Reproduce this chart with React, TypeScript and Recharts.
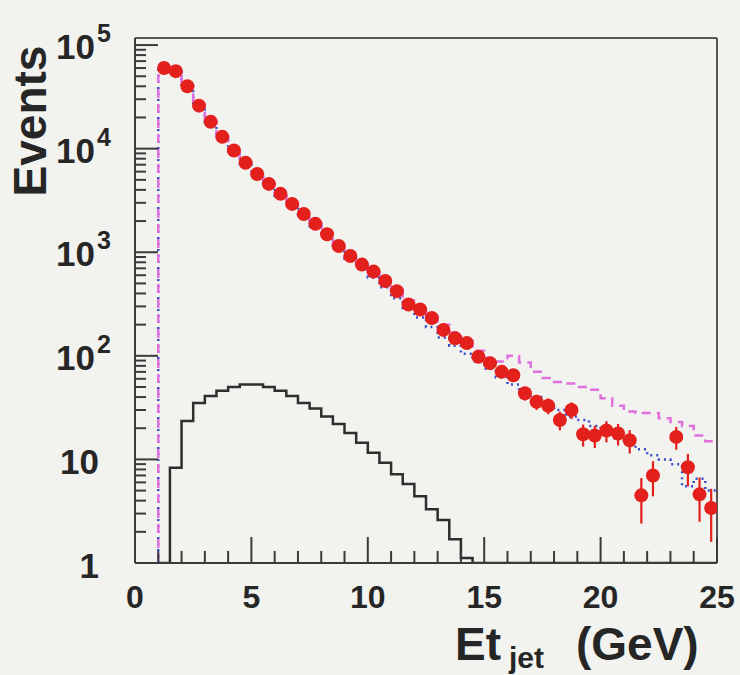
import React from 'react';
import { ComposedChart, Line, Scatter, XAxis, YAxis, ErrorBar, ReferenceLine } from 'recharts';

// Bin centres of Et_jet (GeV), 0.5 GeV bins from 1 to 25
const etCenters = [
  1.25, 1.75, 2.25, 2.75, 3.25, 3.75, 4.25, 4.75, 5.25, 5.75,
  6.25, 6.75, 7.25, 7.75, 8.25, 8.75, 9.25, 9.75, 10.25, 10.75,
  11.25, 11.75, 12.25, 12.75, 13.25, 13.75, 14.25, 14.75, 15.25, 15.75,
  16.25, 16.75, 17.25, 17.75, 18.25, 18.75, 19.25, 19.75, 20.25, 20.75,
  21.25, 21.75, 22.25, 22.75, 23.25, 23.75, 24.25, 24.75,
];

// Data (red points)
const dataEvents: (number | null)[] = [
  60000, 56000, 40000, 26000, 18200, 13000, 9600, 7300, 5700, 4570,
  3660, 2930, 2340, 1880, 1490, 1150, 920, 760, 650, 527,
  421, 313, 280, 232, 178, 148, 133, 98, 85, 70,
  65, 43.5, 36, 33, 24, 30, 17.5, 17, 19, 17.8,
  15.3, 4.5, 7.0, null, 16.5, 8.4, 4.6, 3.4,
];
const dataErrors = [
  245, 237, 200, 161, 135, 114, 98, 85, 75, 68,
  60, 54, 48, 43, 39, 34, 30, 28, 25, 23,
  20.5, 17.7, 16.7, 15.2, 13.3, 12.2, 11.5, 9.9, 9.2, 8.4,
  8.1, 6.6, 6, 5.7, 4.9, 5.5, 4.2, 4.1, 4.4, 4.2,
  3.9, 2.1, 2.6, 0, 4.1, 2.9, 2.1, 1.8,
];

// MC (blue dotted)
const mcBlue = [
  60000, 55000, 39000, 26000, 18000, 12800, 9400, 7100, 5500, 4400,
  3500, 2800, 2240, 1780, 1400, 1100, 870, 700, 570, 460,
  360, 290, 235, 190, 150, 125, 105, 88, 75, 62,
  53, 46, 40, 34, 30, 26, 24, 21, 18, 16,
  14, 12.5, 11, 10, 9, 5.5, 6.5, 5,
];

// MC (magenta dashed)
const mcMagenta = [
  60000, 56000, 40000, 26500, 18500, 13200, 9700, 7400, 5800, 4650,
  3700, 2980, 2380, 1900, 1520, 1180, 950, 780, 640, 520,
  425, 340, 285, 240, 200, 168, 140, 112, 96, 88,
  100, 86, 70, 61, 56, 54, 50, 47, 39, 33,
  29, 28, 28, 25, 23, 21, 17, 15,
];

// Black histogram
const bkgHist = [
  0, 8.3, 23.5, 35, 41, 46, 50, 53, 53, 50,
  46, 41, 35, 31, 26, 22, 18, 14.5, 11.6, 9.3,
  7.2, 5.8, 4.4, 3.3, 2.6, 1.7, 1.12, 0, 0, 0,
  0, 0, 0, 0, 0, 0, 0, 0, 0, 0,
  0, 0, 0, 0, 0, 0, 0, 0,
];

const xTickValues = [0, 1, 2, 3, 4, 5, 6, 7, 8, 9, 10, 11, 12, 13, 14, 15, 16, 17, 18, 19, 20, 21, 22, 23, 24, 25];
const xLabelValues = [0, 5, 10, 15, 20, 25];
const yDecades = [1, 10, 100, 1000, 10000, 100000];
const yDecadeLabels = [
  { base: '1', exp: '' },
  { base: '10', exp: '' },
  { base: '10', exp: '2' },
  { base: '10', exp: '3' },
  { base: '10', exp: '4' },
  { base: '10', exp: '5' },
];

const BIN_HALF = 0.25;
const X_MAX = 25;
const Y_MIN = 1;
const Y_MAX = 117000;

const yTicks: number[] = [];
yDecades.forEach((d) => {
  for (let m = 1; m <= 9; m++) {
    const v = d * m;
    if (v <= Y_MAX) yTicks.push(v);
  }
});

const stepData = (vals: number[]) => {
  const pts: { x: number; y: number }[] = [{ x: etCenters[0] - BIN_HALF, y: Y_MIN }];
  vals.forEach((v, i) => pts.push({ x: etCenters[i] - BIN_HALF, y: Math.max(v, Y_MIN) }));
  pts.push({ x: X_MAX, y: Math.max(vals[vals.length - 1], Y_MIN) });
  return pts;
};

const blueData = stepData(mcBlue);
const magentaData = stepData(mcMagenta);
const bkgData = stepData(bkgHist);
const scatterData = etCenters
  .map((x, i) => ({ x, y: dataEvents[i], err: dataErrors[i] }))
  .filter((d) => d.y !== null);

const FONT = '"Liberation Sans", Arial, Helvetica, sans-serif';
const TEXT = '#262626';
const AXIS = '#3a3a3a';
const RED = '#e3201c';

const XTick = (props: any) => {
  const { x, y, payload } = props;
  const v = payload.value;
  const major = xLabelValues.includes(v);
  return (
    <g>
      <line x1={x} x2={x} y1={y} y2={y - (major ? 26 : 12)} stroke={AXIS} strokeWidth={2} />
      {major && (
        <text x={x} y={y + 45} textAnchor="middle" fontFamily={FONT} fontWeight="bold" fontSize={32} fill={TEXT}>
          {v}
        </text>
      )}
    </g>
  );
};

const YTick = (props: any) => {
  const { x, y, payload } = props;
  const v = payload.value;
  const idx = yDecades.indexOf(v);
  const major = idx >= 0;
  const lab = major ? yDecadeLabels[idx] : null;
  return (
    <g>
      <line x1={x} x2={x + (major ? 23 : 11)} y1={y} y2={y} stroke={AXIS} strokeWidth={2} />
      {lab && lab.exp === '' && (
        <text x={99} y={y + 15} textAnchor="end" fontFamily={FONT} fontWeight="bold" fontSize={35} fill={TEXT}>
          {lab.base}
        </text>
      )}
      {lab && lab.exp !== '' && (
        <text x={56} y={y + 14} textAnchor="start" fontFamily={FONT} fontWeight="bold" fontSize={35} fill={TEXT}>
          {lab.base}
          <tspan dx={2} dy={-17} fontSize={25}>{lab.exp}</tspan>
        </text>
      )}
    </g>
  );
};

const RedDot = (props: any) => {
  const { cx, cy } = props;
  if (cx == null || cy == null) return null;
  return <circle cx={cx} cy={cy} r={7} fill={RED} />;
};

export default function App() {
  return (
    <div style={{ position: 'absolute', left: 0, top: 0, width: 740, height: 675, background: '#f2f3ef', overflow: 'hidden' }}>
      <ComposedChart width={740} height={675} margin={{ top: 38, right: 23, bottom: 52, left: 0 }}>
        <XAxis
          dataKey="x"
          type="number"
          domain={[0, X_MAX]}
          ticks={xTickValues}
          interval={0}
          tick={(p: any) => <XTick {...p} />}
          tickLine={false}
          tickSize={0}
          tickMargin={0}
          axisLine={{ stroke: AXIS, strokeWidth: 2 }}
          height={60}
          allowDataOverflow
        />
        <YAxis
          type="number"
          scale="log"
          domain={[Y_MIN, Y_MAX]}
          ticks={yTicks}
          interval={0}
          tick={(p: any) => <YTick {...p} />}
          tickLine={false}
          tickSize={0}
          tickMargin={0}
          axisLine={{ stroke: AXIS, strokeWidth: 2 }}
          width={135}
          allowDataOverflow
        />
        <Line
          data={bkgData}
          dataKey="y"
          type="stepAfter"
          stroke="#2e2e2e"
          strokeWidth={2.5}
          dot={false}
          isAnimationActive={false}
        />
        <Line
          data={blueData}
          dataKey="y"
          type="stepAfter"
          stroke="#3b4cc8"
          strokeWidth={2.5}
          strokeDasharray="2 4"
          dot={false}
          isAnimationActive={false}
        />
        <Line
          data={magentaData}
          dataKey="y"
          type="stepAfter"
          stroke="#e070e0"
          strokeWidth={2.5}
          strokeDasharray="9 6"
          dot={false}
          isAnimationActive={false}
        />
        <Scatter data={scatterData} dataKey="y" shape={(p: any) => <RedDot {...p} />} isAnimationActive={false}>
          <ErrorBar dataKey="err" direction="y" width={0} stroke={RED} strokeWidth={2.2} />
        </Scatter>
        <ReferenceLine y={Y_MAX} stroke="#555" strokeWidth={2} />
        <ReferenceLine x={X_MAX} stroke="#555" strokeWidth={2} />
      </ComposedChart>
      <svg width={740} height={675} style={{ position: 'absolute', left: 0, top: 0, pointerEvents: 'none' }}>
        <text
          transform="translate(46,121) rotate(-90)"
          textAnchor="middle"
          fontFamily={FONT}
          fontWeight="bold"
          fontSize={46}
          fill={TEXT}
        >
          Events
        </text>
        <text x={455} y={660} fontFamily={FONT} fontWeight="bold" fontSize={46} fill={TEXT}>Et</text>
        <text x={509} y={668} fontFamily={FONT} fontWeight="bold" fontSize={30} fill={TEXT}>jet</text>
        <text x={576} y={660} fontFamily={FONT} fontWeight="bold" fontSize={46} fill={TEXT}>(GeV)</text>
      </svg>
    </div>
  );
}
